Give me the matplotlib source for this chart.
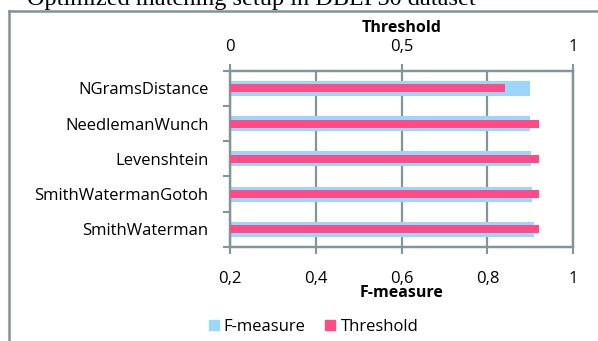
import matplotlib
matplotlib.use('Agg')
import matplotlib.pyplot as plt
from matplotlib.patches import Patch
from matplotlib.lines import Line2D

plt.rcParams['font.family'] = ['Open Sans', 'DejaVu Sans']

# data (top to bottom)
methods = ['NGramsDistance', 'NeedlemanWunch', 'Levenshtein',
           'SmithWatermanGotoh', 'SmithWaterman']
f_measure = [0.899, 0.899, 0.901, 0.904, 0.908]
threshold = [0.80, 0.90, 0.90, 0.90, 0.90]

f_ticks = [0.2, 0.4, 0.6, 0.8, 1.0]
f_labels = ['0,2', '0,4', '0,6', '0,8', '1']
t_ticks = [0, 0.5, 1]
t_labels = ['0', '0,5', '1']

blue = '#9AD7FB'
pink = '#FF4C86'
grey = '#829599'

fig = plt.figure(figsize=(5.98, 3.41), dpi=100)
ax = fig.add_axes([230 / 598, 1 - 247 / 341, 343.3 / 598, 176.3 / 341])

ypos = list(range(len(methods)))
ax.barh(ypos, [v - 0.2 for v in f_measure], left=0.2, height=0.42,
        color=blue, zorder=2)
ax.set_xlim(0.2, 1.0)
ax.set_ylim(len(methods) - 0.5, -0.5)
ax.set_axisbelow(True)
ax.grid(axis='x', color=grey, linewidth=1.6)

ax.set_xticks(f_ticks)
ax.set_xticklabels(f_labels)
ax.set_yticks(ypos)
ax.set_yticklabels(methods)
ax.set_yticks([i - 0.5 for i in range(len(methods) + 1)], minor=True)
ax.tick_params(axis='y', which='major', length=0, pad=15.5, labelsize=12)
ax.tick_params(axis='y', which='minor', length=5, width=1.5, color=grey)
ax.tick_params(axis='x', length=5, width=1.5, color=grey, pad=12, labelsize=12)
ax.set_xlabel('F-measure', fontweight='bold', fontsize=11.5, labelpad=-1)

ax2 = ax.twiny()
ax2.barh(ypos, threshold, height=0.225, color=pink, zorder=3)
ax2.set_xlim(0, 1)
ax2.set_ylim(len(methods) - 0.5, -0.5)
ax2.set_xticks(t_ticks)
ax2.set_xticklabels(t_labels)
ax2.tick_params(axis='x', length=5, width=1.5, color=grey, pad=6, labelsize=12)
ax2.set_xlabel('Threshold', fontweight='bold', fontsize=11.5, labelpad=5)

for a in (ax, ax2):
    for s in a.spines.values():
        s.set_color(grey)
        s.set_linewidth(1.6)

handles = [Patch(color=blue, label='F-measure'), Patch(color=pink, label='Threshold')]
fig.legend(handles=handles, loc='center', bbox_to_anchor=(0.524, 0.041), ncol=2,
           frameon=False, fontsize=12, handlelength=0.6, handleheight=0.6,
           handletextpad=0.3, columnspacing=1.2)

# outer chart border (partly cropped) and cropped caption
fig.add_artist(Line2D([8.5 / 598, 8.5 / 598], [0, 1 - 11 / 341], color='#7F9397', linewidth=1.8))
fig.add_artist(Line2D([8.5 / 598, 1], [1 - 11 / 341, 1 - 11 / 341], color='#7F9397', linewidth=1.8))
fig.text(27 / 598, 1 - 5.5 / 341, 'Optimized matching setup in DBLP50 dataset',
         family='Liberation Serif', fontsize=17.5, va='baseline', ha='left')

fig.savefig('out.png', dpi=100)
